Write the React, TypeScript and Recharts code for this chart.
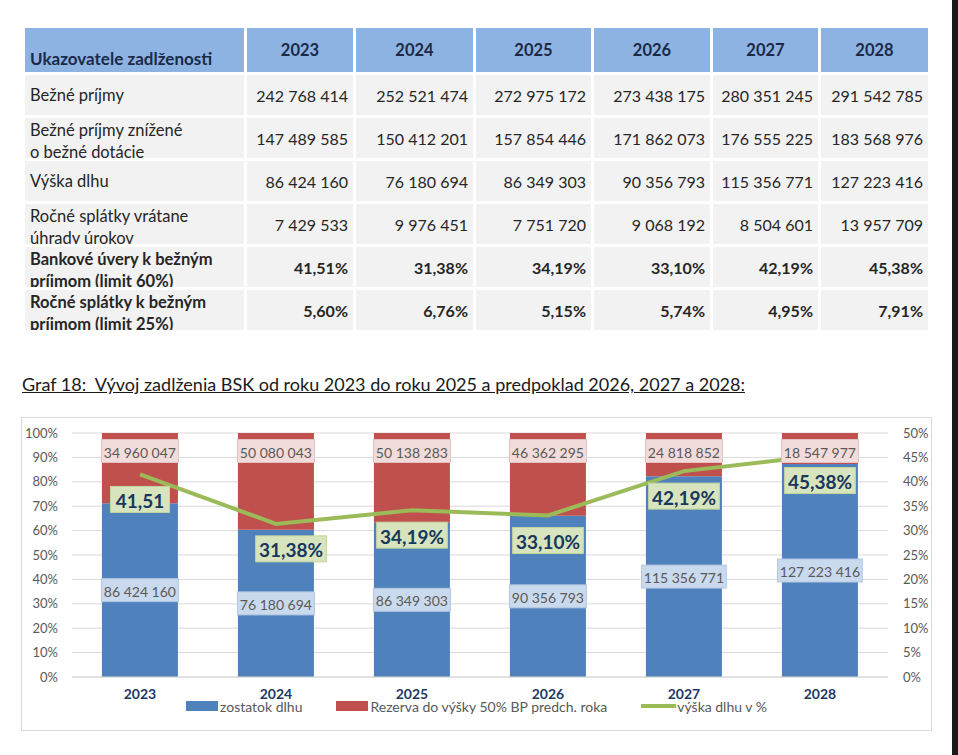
import React from "react";
import {
    ComposedChart,
    Bar,
    Line,
    XAxis,
    YAxis,
    CartesianGrid,
    Legend,
    LabelList,
} from "recharts";

const YEARS = ["2023", "2024", "2025", "2026", "2027", "2028"];
const BEZNE_PRIJMY = [242768414, 252521474, 272975172, 273438175, 280351245, 291542785];
const PRIJMY_ZNIZENE = [147489585, 150412201, 157854446, 171862073, 176555225, 183568976];
const VYSKA_DLHU = [86424160, 76180694, 86349303, 90356793, 115356771, 127223416];
const SPLATKY = [7429533, 9976451, 7751720, 9068192, 8504601, 13957709];
const UVERY_PCT = [41.51, 31.38, 34.19, 33.1, 42.19, 45.38];
const SPLATKY_PCT = [5.6, 6.76, 5.15, 5.74, 4.95, 7.91];
const REZERVA = [34960047, 50080043, 50138283, 46362295, 24818852, 18547977];

const SERIES_NAMES = ["zostatok dlhu", "Rezerva do výšky 50% BP predch. roka", "výška dlhu v %"];

const LEFT_TICKS = [0, 0.1, 0.2, 0.3, 0.4, 0.5, 0.6, 0.7, 0.8, 0.9, 1];
const RIGHT_TICKS = [0, 5, 10, 15, 20, 25, 30, 35, 40, 45, 50];

const BLUE = "#4f81bd";
const RED = "#c0504d";
const GREEN = "#9bbb59";
const FONT = "Lato, 'Open Sans', sans-serif";
const NARROW = "'Liberation Sans Narrow', 'Arial Narrow', Lato, sans-serif";

const fmtNum = (n: number) => String(n).replace(/\B(?=(\d{3})+(?!\d))/g, " ");
const fmtPct = (v: number) => v.toFixed(2).replace(".", ",") + "%";

const tableRows = [
    { label: ["Bežné príjmy"], values: BEZNE_PRIJMY.map(fmtNum), bold: false },
    { label: ["Bežné príjmy znížené", "o bežné dotácie"], values: PRIJMY_ZNIZENE.map(fmtNum), bold: false },
    { label: ["Výška dlhu"], values: VYSKA_DLHU.map(fmtNum), bold: false },
    { label: ["Ročné splátky vrátane", "úhrady úrokov"], values: SPLATKY.map(fmtNum), bold: false },
    { label: ["Bankové úvery k bežným", "príjmom (limit 60%)"], values: UVERY_PCT.map(fmtPct), bold: true },
    { label: ["Ročné splátky k bežným", "príjmom (limit 25%)"], values: SPLATKY_PCT.map(fmtPct), bold: true },
];

// each bar is split into the debt share and the reserve share of their sum
const chartData = YEARS.map((year, i) => {
    const total = VYSKA_DLHU[i] + REZERVA[i];
    return {
        year,
        dlh: VYSKA_DLHU[i],
        rezerva: REZERVA[i],
        dlhShare: VYSKA_DLHU[i] / total,
        rezShare: REZERVA[i] / total,
        pct: UVERY_PCT[i],
    };
});

const COL_W = [219, 106, 117, 115, 116, 105, 107];

const DebtTable = () => (
    <div
        style={{
            position: "absolute",
            left: 25,
            top: 28,
            display: "grid",
            gridTemplateColumns: COL_W.map((w) => w + "px").join(" "),
            gridTemplateRows: "44px repeat(6, 40px)",
            columnGap: 3,
            rowGap: 3,
            fontFamily: FONT,
            fontSize: 16,
            color: "#262626",
        }}
    >
        <div
            style={{
                background: "#8db3e2",
                display: "flex",
                alignItems: "flex-end",
                padding: "0 0 3px 5px",
                fontWeight: 700,
                fontSize: 17,
                color: "#1c2a48",
            }}
        >
            Ukazovatele zadlženosti
        </div>
        {YEARS.map((y) => (
            <div
                key={y}
                style={{
                    background: "#8db3e2",
                    display: "flex",
                    alignItems: "center",
                    justifyContent: "center",
                    fontWeight: 700,
                    fontSize: 16.5,
                    color: "#1c2a48",
                }}
            >
                {y}
            </div>
        ))}
        {tableRows.map((row, r) => (
            <React.Fragment key={r}>
                {/* two-line labels start at the top and are cut by the row height */}
                <div
                    style={{
                        background: "#f2f2f2",
                        padding: "0 0 0 5px",
                        overflow: "hidden",
                        display: "flex",
                        flexDirection: "column",
                        justifyContent: row.label.length > 1 ? "flex-start" : "center",
                        lineHeight: "22px",
                        fontSize: 16.5,
                        fontWeight: row.bold ? 700 : 400,
                        whiteSpace: "nowrap",
                    }}
                >
                    {row.label.map((t, k) => (
                        <div key={k} style={{ marginTop: row.label.length > 1 && k === 0 ? 1 : 0 }}>
                            {t}
                        </div>
                    ))}
                </div>
                {row.values.map((v, c) => (
                    <div
                        key={c}
                        style={{
                            background: "#f2f2f2",
                            display: "flex",
                            alignItems: "center",
                            justifyContent: "flex-end",
                            paddingRight: 5,
                            fontWeight: row.bold ? 700 : 400,
                        }}
                    >
                        {v}
                    </div>
                ))}
            </React.Fragment>
        ))}
    </div>
);

// pale boxed value inside the middle of the debt segment
const DebtLabel = (props: any) => {
    const vb = props.viewBox || props;
    const { x, y, width, height } = vb;
    const text = fmtNum(Number(props.value));
    const w = text.length * 7.7;
    const cx = x + width / 2;
    const cy = y + height / 2;
    return (
        <g>
            <rect x={cx - w / 2} y={cy - 11.5} width={w} height={23} fill="#c9d9ee" stroke="#b4c7e2" />
            <text x={cx} y={cy + 1} textAnchor="middle" dominantBaseline="central" fill="#595959" fontSize={14} fontFamily={FONT}>
                {text}
            </text>
        </g>
    );
};

// reserve value sits just under the 100% line
const ReserveLabel = (props: any) => {
    const vb = props.viewBox || props;
    const { x, y, width } = vb;
    const text = fmtNum(Number(props.value));
    const w = text.length * 7.7;
    const cx = x + width / 2;
    const cy = y + 18;
    return (
        <g>
            <rect x={cx - w / 2} y={cy - 11.5} width={w} height={23} fill="#f2dcdb" stroke="#e6c3c2" />
            <text x={cx} y={cy + 1} textAnchor="middle" dominantBaseline="central" fill="#595959" fontSize={14} fontFamily={FONT}>
                {text}
            </text>
        </g>
    );
};

// green ratio box below each point; the 2023 box drops the percent sign
const PctLabel = (props: any) => {
    const vb = props.viewBox || props;
    const x = props.x ?? vb.x;
    const y = props.y ?? vb.y;
    const i = props.index ?? 0;
    const full = fmtPct(Number(props.value));
    const text = i === 0 ? full.replace("%", "") : full;
    const w = text.length * 11.8;
    const cx = x + (i === 1 ? 15 : 0);
    const cy = y + 25;
    return (
        <g>
            <rect x={cx - w / 2} y={cy - 13} width={w} height={26} fill="#d7e4bd" stroke="#c3d69b" />
            <text x={cx} y={cy + 1} textAnchor="middle" dominantBaseline="central" fill="#17375e" fontSize={19} fontWeight={700} fontFamily={FONT}>
                {text}
            </text>
        </g>
    );
};

const LegendContent = (props: any) => {
    const payload = [...(props.payload || [])].sort(
        (a: any, b: any) => SERIES_NAMES.indexOf(a.value) - SERIES_NAMES.indexOf(b.value)
    );
    return (
        <div
            style={{
                display: "flex",
                justifyContent: "center",
                alignItems: "center",
                gap: 34,
                fontFamily: NARROW,
                fontSize: 14,
                color: "#595959",
                height: 18,
            }}
        >
            {payload.map((p: any) => (
                <div key={p.value} style={{ display: "flex", alignItems: "center" }}>
                    {p.type === "line" ? (
                        <span style={{ width: 35, height: 4, background: p.color, marginRight: 1 }} />
                    ) : (
                        <span style={{ width: 32, height: 10, background: p.color, marginRight: 2 }} />
                    )}
                    <span>{p.value}</span>
                </div>
            ))}
        </div>
    );
};

const DebtChart = () => (
    <div style={{ position: "absolute", left: 22, top: 418, width: 909, height: 312, outline: "1px solid #d9d9d9" }}>
        <ComposedChart
            width={909}
            height={312}
            data={chartData}
            barCategoryGap="22%"
            margin={{ top: 15, right: 0, bottom: 0, left: 0 }}
        >
            <CartesianGrid vertical={false} stroke="#d9d9d9" />
            <XAxis
                dataKey="year"
                height={53}
                tickSize={0}
                tickMargin={12}
                axisLine={{ stroke: "#d9d9d9" }}
                tick={{ fill: "#1f3864", fontSize: 14, fontWeight: 700, fontFamily: NARROW }}
            />
            <YAxis
                width={50}
                domain={[0, 1]}
                ticks={LEFT_TICKS}
                tickFormatter={(v: number) => Math.round(v * 100) + "%"}
                axisLine={false}
                tickSize={0}
                tickMargin={14}
                tick={{ fill: "#595959", fontSize: 13, fontFamily: FONT }}
            />
            <YAxis
                yAxisId="right"
                orientation="right"
                width={43}
                domain={[0, 50]}
                ticks={RIGHT_TICKS}
                tickFormatter={(v: number) => v + "%"}
                axisLine={false}
                tickSize={0}
                tickMargin={15}
                tick={{ fill: "#595959", fontSize: 13, fontFamily: FONT }}
            />
            <Bar dataKey="dlhShare" name={SERIES_NAMES[0]} stackId="a" fill={BLUE} isAnimationActive={false}>
                <LabelList dataKey="dlh" content={<DebtLabel />} />
            </Bar>
            <Bar dataKey="rezShare" name={SERIES_NAMES[1]} stackId="a" fill={RED} isAnimationActive={false}>
                <LabelList dataKey="rezerva" content={<ReserveLabel />} />
            </Bar>
            <Line
                yAxisId="right"
                dataKey="pct"
                name={SERIES_NAMES[2]}
                type="linear"
                stroke={GREEN}
                strokeWidth={4}
                dot={false}
                activeDot={false}
                isAnimationActive={false}
            >
                <LabelList dataKey="pct" content={<PctLabel />} />
            </Line>
            <Legend
                layout="horizontal"
                verticalAlign="middle"
                align="center"
                wrapperStyle={{ top: 279, left: 0, width: 909 }}
                content={<LegendContent />}
            />
        </ComposedChart>
    </div>
);

export default function App() {
    return (
        <div
            style={{
                position: "absolute",
                left: 0,
                top: 0,
                width: 958,
                height: 755,
                background: "#fff",
                overflow: "hidden",
                fontFamily: FONT,
            }}
        >
            <DebtTable />
            <div
                style={{
                    position: "absolute",
                    left: 22,
                    top: 373,
                    fontSize: 18,
                    textDecoration: "underline",
                    color: "#1a1a1a",
                    whiteSpace: "nowrap",
                }}
            >
                Graf 18:&nbsp; Vývoj zadlženia BSK od roku 2023 do roku 2025 a predpoklad 2026, 2027 a 2028:
            </div>
            <DebtChart />
            <div style={{ position: "absolute", left: 952, top: 0, width: 6, height: 755, background: "#1b1b1b" }} />
        </div>
    );
}
